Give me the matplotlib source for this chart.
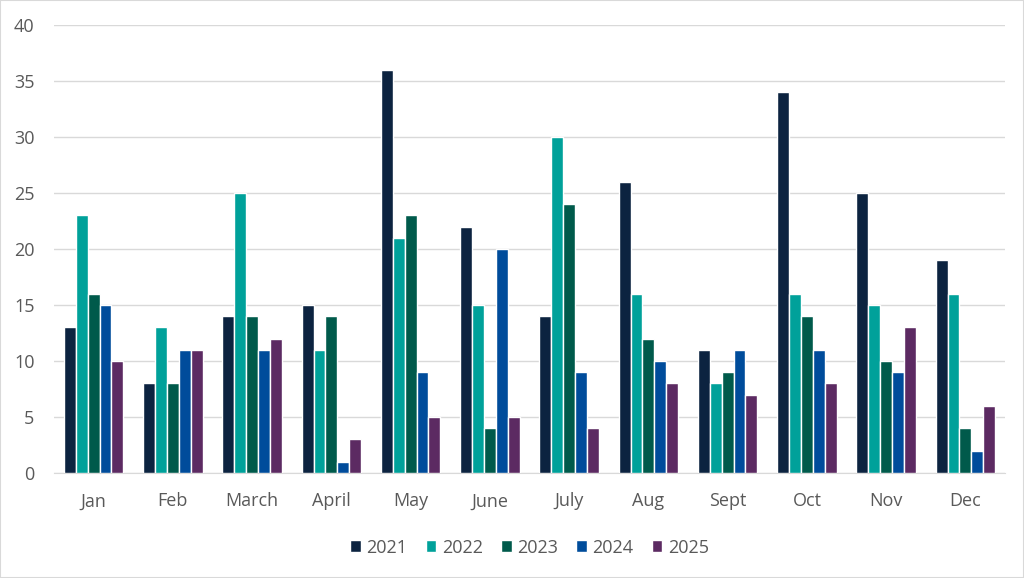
import numpy as np
import matplotlib.pyplot as plt
from matplotlib.patches import Rectangle

plt.rcParams['font.family'] = ['Open Sans', 'DejaVu Sans']

# 数据
months = ['Jan', 'Feb', 'March', 'April', 'May', 'June',
          'July', 'Aug', 'Sept', 'Oct', 'Nov', 'Dec']
years = ['2021', '2022', '2023', '2024', '2025']
v2021 = [13, 8, 14, 15, 36, 22, 14, 26, 11, 34, 25, 19]
v2022 = [23, 13, 25, 11, 21, 15, 30, 16, 8, 16, 15, 16]
v2023 = [16, 8, 14, 14, 23, 4, 24, 12, 9, 14, 10, 4]
v2024 = [15, 11, 11, 1, 9, 20, 9, 10, 11, 11, 9, 2]
v2025 = [10, 11, 12, 3, 5, 5, 4, 8, 7, 8, 13, 6]
series = [v2021, v2022, v2023, v2024, v2025]
colors = ['#0C2340', '#00A19A', '#005A4B', '#004C9B', '#5C2A62']

fig = plt.figure(figsize=(10.24, 5.78), dpi=100)
ax = fig.add_axes([54 / 1024, 1 - 473 / 578, 951 / 1024, 448 / 578])

x = np.arange(len(months))
w = 0.15
for i, (vals, c, yr) in enumerate(zip(series, colors, years)):
    ax.bar(x + (i - 2) * w, vals, width=w, color=c, edgecolor='white',
           linewidth=1.0, label=yr, zorder=3)

ax.set_xlim(-0.5, len(months) - 0.5)
ax.set_ylim(0, 40)
ax.set_yticks(range(0, 41, 5))
ax.set_xticks(x)
ax.set_xticklabels(months)
ax.grid(axis='y', color='#D9D9D9', linewidth=1, zorder=0)
for s in ['top', 'right', 'left']:
    ax.spines[s].set_visible(False)
ax.spines['bottom'].set_color('#D9D9D9')
ax.tick_params(axis='both', length=0, colors='#595959', labelsize=13)
ax.tick_params(axis='x', pad=14)
ax.tick_params(axis='y', pad=14)

ax.legend(loc='upper center', bbox_to_anchor=(0.5, -0.11), ncol=5,
          frameon=False, fontsize=13, handlelength=0.6, handleheight=0.6,
          handletextpad=0.3, columnspacing=1.0, labelcolor='#595959')

fig.patches.append(Rectangle((0, 0), 1, 1, transform=fig.transFigure,
                             fill=False, edgecolor='#D9D9D9', linewidth=1.5))

fig.savefig('out.png', dpi=100)
